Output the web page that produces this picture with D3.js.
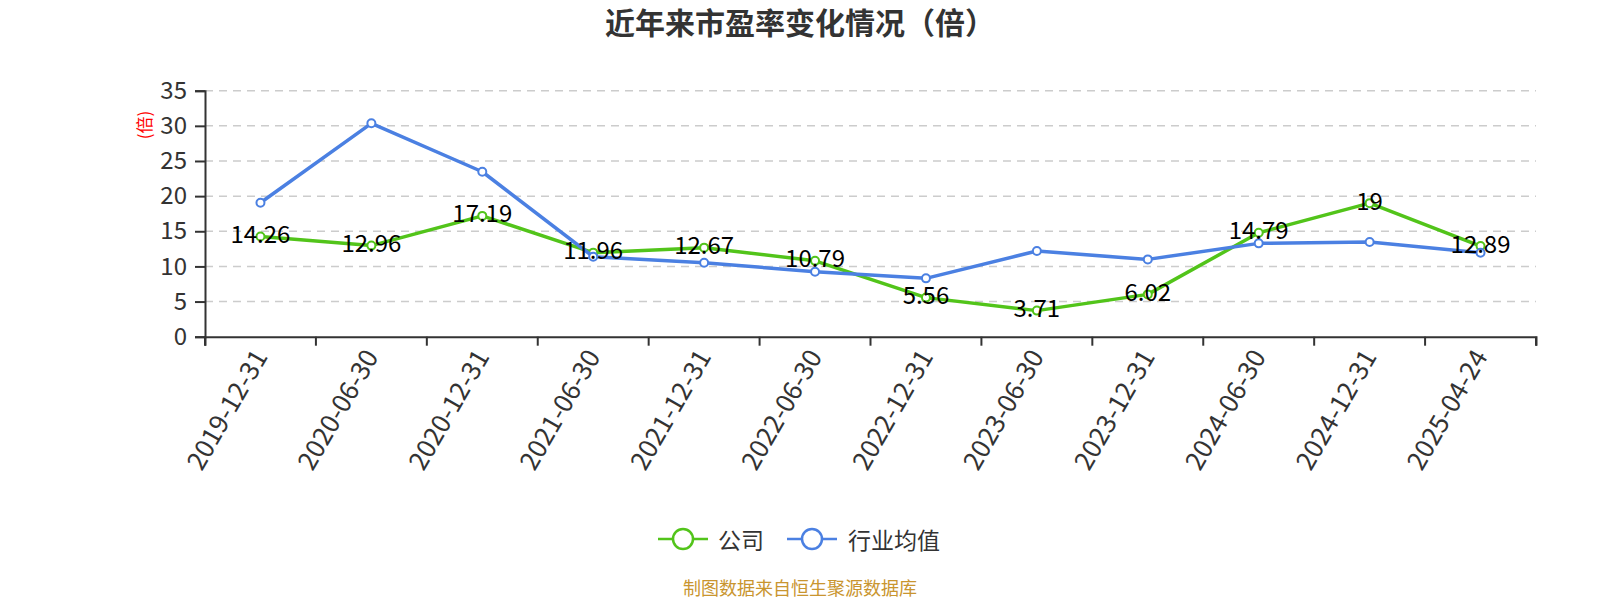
<!DOCTYPE html>
<html>
<head>
<meta charset="utf-8">
<script src="https://cdn.jsdelivr.net/npm/d3@7"></script>
<style>
  html, body { margin: 0; padding: 0; background: #fff; }
  svg { display: block; font-family: "Microsoft YaHei", "Noto Sans CJK SC", "Noto Sans", sans-serif; }
</style>
</head>
<body>
<svg id="chart" width="1600" height="600"></svg>
<script>
const categories = ["2019-12-31","2020-06-30","2020-12-31","2021-06-30","2021-12-31","2022-06-30","2022-12-31","2023-06-30","2023-12-31","2024-06-30","2024-12-31","2025-04-24"];
const companyPE = [14.26, 12.96, 17.19, 11.96, 12.67, 10.79, 5.56, 3.71, 6.02, 14.79, 19, 12.89];
const industryPE = [19.06, 30.36, 23.47, 11.38, 10.53, 9.25, 8.3, 12.19, 11.0, 13.28, 13.47, 11.95];
const yTicks = [0, 5, 10, 15, 20, 25, 30, 35];
const seriesNames = ["公司", "行业均值"];
const colors = ["#52c41a", "#4b80e2"];

const svg = d3.select("#chart");
const plotLeft = 205, plotRight = 1536, plotTop = 90.7, plotBottom = 336.7;

const x = d3.scaleBand().domain(categories).range([plotLeft, plotRight]).padding(0);
const y = d3.scaleLinear().domain([0, 35]).range([plotBottom, plotTop]);
const cx = d => x(d) + x.bandwidth() / 2;

// Title
svg.append("text").attr("x", 800).attr("y", 34).attr("text-anchor", "middle")
  .attr("font-size", 30).attr("font-weight", "bold").attr("fill", "#333")
  .text("近年来市盈率变化情况（倍）");

// Grid lines
svg.append("g").selectAll("line").data(yTicks.filter(t => t > 0)).join("line")
  .attr("x1", plotLeft).attr("x2", plotRight)
  .attr("y1", d => y(d)).attr("y2", d => y(d))
  .attr("stroke", "#ccc").attr("stroke-width", 1.5).attr("stroke-dasharray", "8,6");

// Y axis
const yAxis = d3.axisLeft(y).tickValues(yTicks).tickSize(10).tickPadding(8);
const yg = svg.append("g").attr("transform", `translate(${plotLeft},0)`).call(yAxis);
yg.select(".domain").attr("stroke", "#333").attr("stroke-width", 2);
yg.selectAll(".tick line").attr("stroke", "#333").attr("stroke-width", 2);
yg.selectAll(".tick text").attr("font-size", 24).attr("fill", "#333")
  .attr("font-family", "\"Microsoft YaHei\", \"Noto Sans CJK SC\", sans-serif");

// Y axis name
svg.append("text").attr("transform", `translate(143,125) rotate(-90)`)
  .attr("text-anchor", "middle").attr("dominant-baseline", "central")
  .attr("font-size", 17).attr("fill", "#ff0000").text("(倍)");

// X axis
const xAxis = d3.axisBottom(x).tickSize(9).tickFormat("");
const xg = svg.append("g").attr("transform", `translate(0,${plotBottom})`).call(xAxis);
xg.select(".domain").attr("stroke", "#333").attr("stroke-width", 2);
xg.selectAll(".tick").remove();
const bounds = categories.map(c => x(c)).concat([plotRight]);
xg.append("g").selectAll("line").data(bounds).join("line")
  .attr("x1", d => d).attr("x2", d => d).attr("y1", 0).attr("y2", 9)
  .attr("stroke", "#333").attr("stroke-width", 2);

svg.append("g").selectAll("text").data(categories).join("text")
  .attr("transform", d => `translate(${cx(d) - 2},${plotBottom + 14}) rotate(-60)`)
  .attr("text-anchor", "end").attr("dominant-baseline", "central")
  .attr("font-size", 26).attr("fill", "#333").text(d => d);

// Lines
const line = d3.line().x((d, i) => cx(categories[i])).y(d => y(d));
const allSeries = [companyPE, industryPE];
allSeries.forEach((s, k) => {
  svg.append("path").datum(s).attr("d", line).attr("fill", "none")
    .attr("stroke", colors[k]).attr("stroke-width", 3.5).attr("stroke-linejoin", "round");
  svg.append("g").selectAll("circle").data(s).join("circle")
    .attr("cx", (d, i) => cx(categories[i])).attr("cy", d => y(d)).attr("r", 4)
    .attr("fill", "#fff").attr("stroke", colors[k]).attr("stroke-width", 2);
});

// Data labels for company
svg.append("g").selectAll("text").data(companyPE).join("text")
  .attr("x", (d, i) => cx(categories[i])).attr("y", d => y(d) - 4)
  .attr("text-anchor", "middle").attr("dominant-baseline", "central")
  .attr("font-size", 24).attr("fill", "#000").text(d => d);

// Legend
const legendItems = [{ name: seriesNames[0], color: colors[0], x0: 658, tx: 718 },
                     { name: seriesNames[1], color: colors[1], x0: 787, tx: 848 }];
const lg = svg.append("g");
legendItems.forEach(it => {
  lg.append("line").attr("x1", it.x0).attr("x2", it.x0 + 50).attr("y1", 539).attr("y2", 539)
    .attr("stroke", it.color).attr("stroke-width", 2.5);
  lg.append("circle").attr("cx", it.x0 + 25).attr("cy", 539).attr("r", 10)
    .attr("fill", "#fff").attr("stroke", it.color).attr("stroke-width", 2.5);
  lg.append("text").attr("x", it.tx).attr("y", 539).attr("dominant-baseline", "central")
    .attr("font-size", 23).attr("fill", "#333").text(it.name);
});

// Footer
svg.append("text").attr("x", 800).attr("y", 587).attr("text-anchor", "middle")
  .attr("dominant-baseline", "central").attr("font-size", 18).attr("fill", "#c9952f")
  .text("制图数据来自恒生聚源数据库");
</script>
</body>
</html>
